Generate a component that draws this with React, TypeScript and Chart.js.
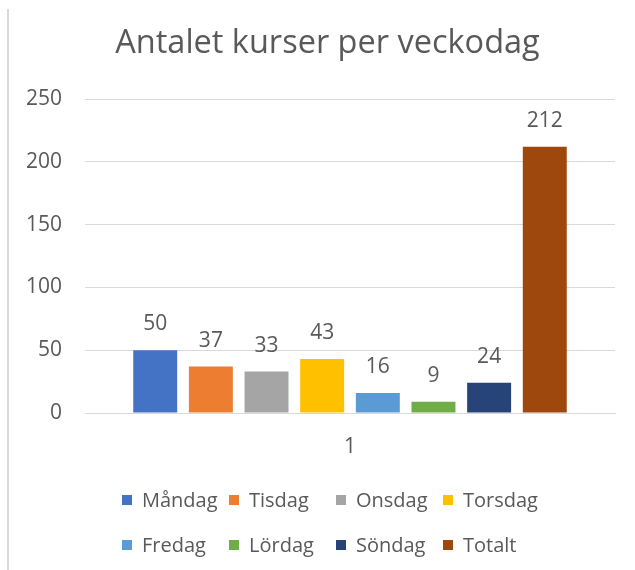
import React, { useEffect, useRef } from "react";
import { Chart, registerables } from "chart.js";

Chart.register(...registerables);

const chartTitle = "Antalet kurser per veckodag";
const categories = ["1"];
const seriesNames = ["Måndag", "Tisdag", "Onsdag", "Torsdag", "Fredag", "Lördag", "Söndag", "Totalt"];
const seriesValues = [50, 37, 33, 43, 16, 9, 24, 212];
const seriesColors = ["#4472C4", "#ED7D31", "#A5A5A5", "#FFC000", "#5B9BD5", "#70AD47", "#264478", "#9E480E"];
const yMin = 0;
const yMax = 250;
const yStep = 50;

const FONT = "'Open Sans', 'Noto Sans', sans-serif";
const TEXT = "#595959";
const GRID = "#d9d9d9";

const titlePlugin = {
  id: "customTitle",
  afterDraw(chart: any) {
    const ctx = chart.ctx;
    ctx.save();
    ctx.font = `32.5px ${FONT}`;
    ctx.fillStyle = TEXT;
    ctx.textAlign = "center";
    ctx.textBaseline = "middle";
    ctx.fillText(chartTitle, (chart.width + 20) / 2, 44);
    ctx.restore();
  },
};

const valueLabels = {
  id: "valueLabels",
  afterDatasetsDraw(chart: any) {
    const ctx = chart.ctx;
    ctx.save();
    ctx.font = `21px ${FONT}`;
    ctx.fillStyle = TEXT;
    ctx.textAlign = "center";
    ctx.textBaseline = "middle";
    chart.data.datasets.forEach((ds: any, i: number) => {
      const meta = chart.getDatasetMeta(i);
      meta.data.forEach((el: any, j: number) => {
        ctx.fillText(String(ds.data[j]), el.x, el.y - 26);
      });
    });
    ctx.restore();
  },
};

const gridLegend = {
  id: "gridLegend",
  afterDraw(chart: any) {
    const ctx = chart.ctx;
    const cols = 4;
    const colW = 107;
    const startX = 122;
    const rowY = [500, 545];
    const box = 10;
    ctx.save();
    ctx.font = `20px ${FONT}`;
    ctx.textBaseline = "middle";
    ctx.textAlign = "left";
    chart.data.datasets.forEach((ds: any, i: number) => {
      const c = i % cols;
      const r = Math.floor(i / cols);
      const x = startX + c * colW;
      const y = rowY[r];
      ctx.fillStyle = ds.backgroundColor;
      ctx.fillRect(x, y - box / 2, box, box);
      ctx.fillStyle = TEXT;
      ctx.fillText(ds.label, x + 20, y + 1);
    });
    ctx.restore();
  },
};

export default function App() {
  const ref = useRef<HTMLCanvasElement | null>(null);
  useEffect(() => {
    if (!ref.current) return;
    const chart = new Chart(ref.current, {
      type: "bar",
      data: {
        labels: categories,
        datasets: seriesNames.map((name, i) => ({
          label: name,
          data: [seriesValues[i]],
          backgroundColor: seriesColors[i],
          borderWidth: 0,
          categoryPercentage: 0.84,
          barPercentage: 0.79,
        })),
      },
      options: {
        responsive: false,
        animation: false,
        layout: { padding: { left: 0, right: 20, top: 99, bottom: 0 } },
        plugins: {
          legend: { display: false },
          tooltip: { enabled: false },
          title: { display: false },
        },
        scales: {
          x: {
            grid: { display: false },
            border: { display: true, color: GRID, width: 1 },
            ticks: { color: TEXT, font: { family: FONT, size: 21 }, padding: 13 },
            afterFit(scale: any) {
              scale.height = 157;
            },
          },
          y: {
            min: yMin,
            max: yMax,
            ticks: { stepSize: yStep, color: TEXT, font: { family: FONT, size: 21 }, padding: 23 },
            grid: { color: GRID, drawTicks: false, lineWidth: 1 },
            border: { display: false },
            afterFit(scale: any) {
              scale.width = 85;
            },
          },
        },
      },
      plugins: [titlePlugin, valueLabels, gridLegend],
    });
    return () => chart.destroy();
  }, []);
  return (
    <div style={{ position: "fixed", left: 0, top: 0, width: 635, height: 570, background: "#fff" }}>
      <div style={{ position: "absolute", left: 7, top: 9, width: 2, height: 561, background: GRID }} />
      <canvas ref={ref} width={635} height={570} style={{ position: "absolute", left: 0, top: 0 }} />
    </div>
  );
}
